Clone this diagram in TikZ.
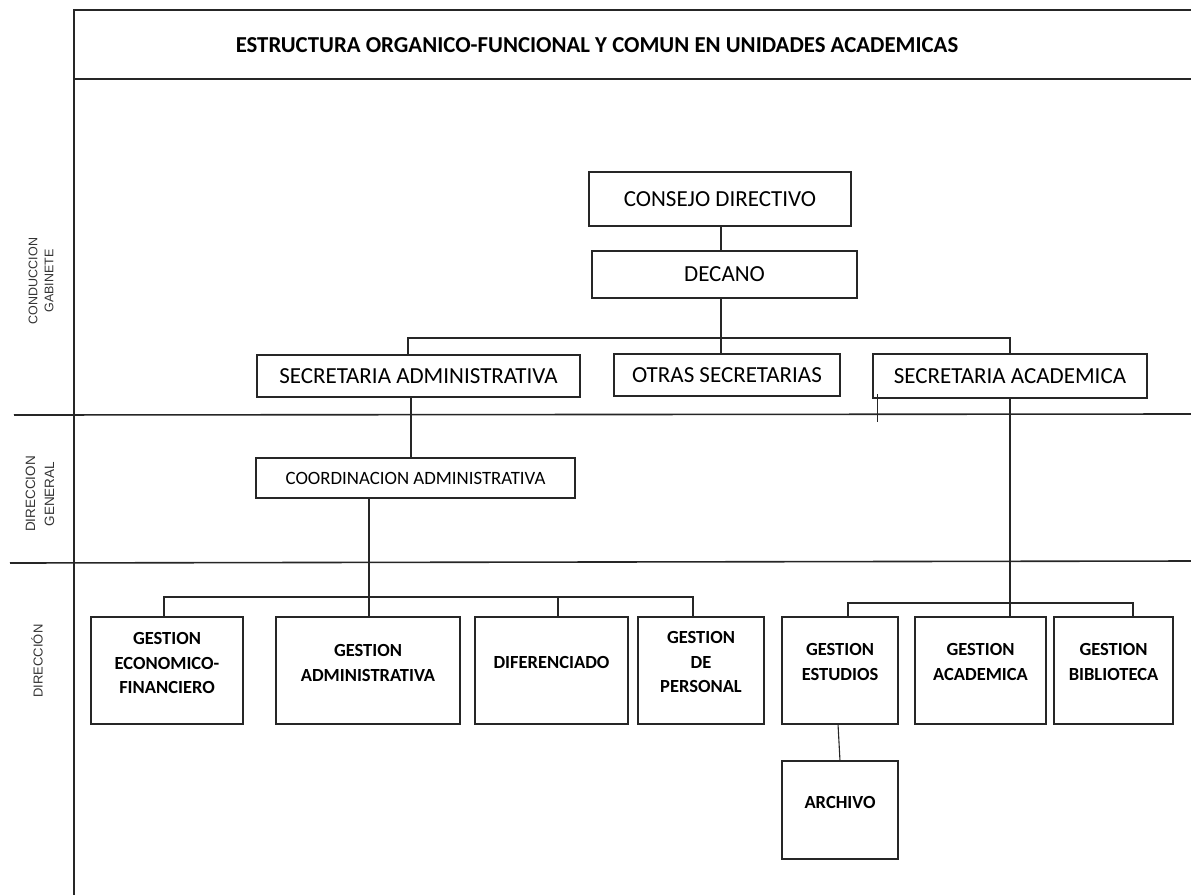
\documentclass[tikz,border=0pt]{standalone}
\usepackage{fontspec}
\setmainfont{Carlito}
\newfontfamily\arialf{Liberation Sans}
\begin{document}
\begin{tikzpicture}[x=1pt,y=-1pt,
  frame/.style={line width=1.6pt,draw=black!85},
  box/.style={draw=black!85,line width=1.3pt,inner sep=0pt,rectangle},
  topbox/.style={box,font=\fontsize{23}{27}\selectfont},
  midbox/.style={box,font=\fontsize{18.8}{22}\selectfont},
  btext/.style={align=center,inner sep=0pt,font=\bfseries\fontsize{18.5}{24.5}\selectfont},
  conn/.style={draw=black!85,line width=1.1pt},
  side/.style={rotate=90,align=center,inner sep=0pt,text=black!80}]
\useasboundingbox (0,0) rectangle (1191,895);
% frame
\draw[frame] (1191,10) -- (74,10) -- (74,895);
\draw[frame] (74,79) -- (1191,79);
\draw[frame] (14,415) -- (1191,414);
\draw[frame] (10,563) -- (1191,561);
\node[inner sep=0pt,font=\bfseries\fontsize{22.8}{26}\selectfont] (title) at (597,45) {ESTRUCTURA ORGANICO-FUNCIONAL Y COMUN EN UNIDADES ACADEMICAS};
% side labels
\node[side,font=\arialf\fontsize{12.5}{16}\selectfont] (lab1) at (41,281) {CONDUCCION\\GABINETE};
\node[side,font=\arialf\fontsize{13.5}{19}\selectfont] (lab2) at (40,494) {DIRECCION\\GENERAL};
\node[side,font=\arialf\fontsize{13}{16}\selectfont] (lab3) at (37,661) {DIRECCIÓN};
% top boxes
\node[topbox,minimum width=262pt,minimum height=54pt] (consejo) at (720,199) {CONSEJO DIRECTIVO};
\node[topbox,minimum width=265pt,minimum height=47pt] (decano) at (724.5,274.5) {DECANO};
\node[topbox,minimum width=226pt,minimum height=42pt] (otras) at (727,375) {OTRAS SECRETARIAS};
\node[topbox,minimum width=274pt,minimum height=44pt] (secacad) at (1010,376) {SECRETARIA ACADEMICA};
\node[topbox,minimum width=323pt,minimum height=42pt] (secadm) at (418.5,376) {SECRETARIA ADMINISTRATIVA};
\node[midbox,minimum width=319pt,minimum height=40pt] (coord) at (415.5,478) {COORDINACION ADMINISTRATIVA};
% bottom boxes
\node[box,minimum width=152pt,minimum height=107pt] (econ) at (167,670.5) {};
\node[box,minimum width=184pt,minimum height=107pt] (admin) at (368,670.5) {};
\node[box,minimum width=153pt,minimum height=107pt] (difer) at (551.5,670.5) {};
\node[box,minimum width=126pt,minimum height=107pt] (personal) at (701,670.5) {};
\node[box,minimum width=116pt,minimum height=107pt] (estudios) at (840,670.5) {};
\node[box,minimum width=131pt,minimum height=107pt] (academica) at (980.5,670.5) {};
\node[box,minimum width=119pt,minimum height=107pt] (biblio) at (1113.5,670.5) {};
\node[box,minimum width=116pt,minimum height=98pt] (archivo) at (840,810) {};
\node[btext] (t-econ) at (167,663) {GESTION\\ECONOMICO-\\FINANCIERO};
\node[btext] (t-admin) at (368,663) {GESTION\\ADMINISTRATIVA};
\node[btext] (t-difer) at (551.5,662) {DIFERENCIADO};
\node[btext] (t-personal) at (701,662) {GESTION\\DE\\PERSONAL};
\node[btext] (t-estudios) at (840,662) {GESTION\\ESTUDIOS};
\node[btext] (t-academica) at (980.5,662) {GESTION\\ACADEMICA};
\node[btext] (t-biblio) at (1113.5,662) {GESTION\\BIBLIOTECA};
\node[btext] (t-archivo) at (840,802) {ARCHIVO};
% connector coordinates
\coordinate (v0) at (721,0);
\coordinate (busL) at (408,338);
\coordinate (busR) at (1010,338);
\coordinate (v1) at (411,0);
\coordinate (b2m) at (369,597);
\coordinate (b2l) at (164,597);
\coordinate (b2d) at (558,597);
\coordinate (b2r) at (693,597);
\coordinate (b3m) at (1010,603);
\coordinate (b3l) at (848,603);
\coordinate (b3r) at (1133,603);
\coordinate (arcTop) at (840,761);
\coordinate (estBot) at (838,724);
% connectors
\draw[conn] (v0 |- consejo.south) -- (v0 |- decano.north);
\draw[conn] (v0 |- decano.south) -- (v0 |- otras.north);
\draw[conn] (busL |- secadm.north) -- (busL) -- (busR) -- (secacad.north);
\draw[conn] (v1 |- secadm.south) -- (v1 |- coord.north);
\draw[conn] (b2m |- coord.south) -- (b2m |- admin.north);
\draw[conn] (b2l |- econ.north) -- (b2l) -- (b2r) -- (b2r |- personal.north);
\draw[conn] (b2d) -- (b2d |- difer.north);
\draw[conn] (secacad.south) -- (b3m |- academica.north);
\draw[conn] (b3l |- estudios.north) -- (b3l) -- (b3r) -- (b3r |- biblio.north);
\draw[conn] (estBot) -- (arcTop);
% stray tick
\coordinate (tick) at (877,394);
\draw[conn,line width=0.9pt] (tick) -- ++(0,28);
\end{tikzpicture}
\end{document}
